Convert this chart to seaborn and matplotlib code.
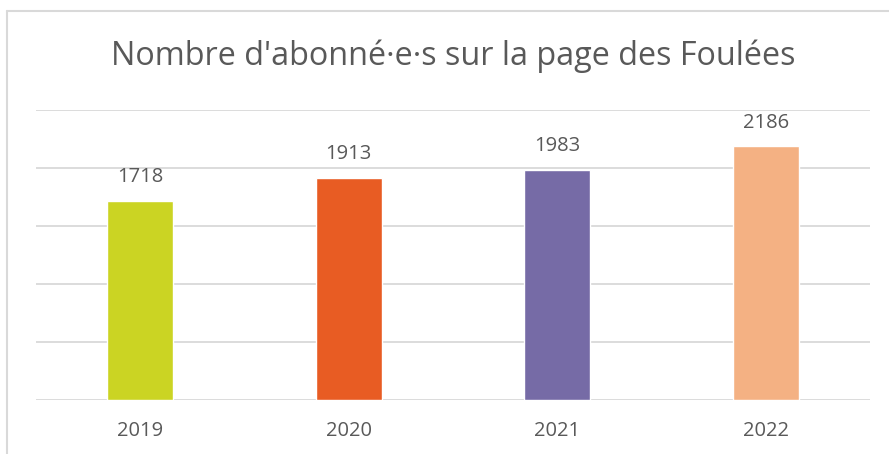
import matplotlib
matplotlib.use("Agg")
import matplotlib.pyplot as plt
import seaborn as sns
import pandas as pd
from matplotlib.lines import Line2D

# data
years = ["2019", "2020", "2021", "2022"]
abonnes = [1718, 1913, 1983, 2186]
colors = ["#CBD423", "#E85C23", "#766BA6", "#F4B183"]

title = "Nombre d'abonné·e·s sur la page des Foulées"
txt_color = "#595959"
grid_color = "#D9D9D9"

sns.set_theme(style="white")
plt.rcParams['font.family'] = ['Open Sans', 'DejaVu Sans']

df = pd.DataFrame({"annee": years, "abonnes": abonnes})

fig = plt.figure(figsize=(8.89, 4.54), dpi=100)
ax = fig.add_axes([36/889, 1 - 400/454, (870-36)/889, (400-110)/454])

sns.barplot(data=df, x="annee", y="abonnes", hue="annee", palette=colors,
            width=0.317, legend=False, ax=ax, saturation=1)

ax.set_ylim(0, 2500)
ax.set_xlim(-0.5, 3.5)
ax.set_yticks(range(0, 2501, 500))
ax.set_yticklabels([])
ax.yaxis.grid(True, color=grid_color, linewidth=1.3)
ax.set_axisbelow(True)
for s in ax.spines.values():
    s.set_visible(False)
ax.tick_params(axis='x', length=0, pad=15, labelsize=14.5, labelcolor=txt_color)
ax.tick_params(axis='y', length=0)
ax.set_xlabel("")
ax.set_ylabel("")

for i, v in enumerate(abonnes):
    ax.annotate(str(v), (i, v), xytext=(0, 10), textcoords="offset points",
                ha="center", va="bottom", fontsize=14.5, color=txt_color)

fig.text(453/889, 1 - 56/454, title, ha="center", va="center",
         fontsize=23.3, color=txt_color)

# chart frame (only left/top edges visible in the crop)
fig.add_artist(Line2D([7/889, 7/889], [0, 1 - 11/454], transform=fig.transFigure,
                      color=grid_color, linewidth=1.5))
fig.add_artist(Line2D([7/889, 1], [1 - 11/454, 1 - 11/454], transform=fig.transFigure,
                      color=grid_color, linewidth=1.5))

fig.savefig("out.png", dpi=100)
